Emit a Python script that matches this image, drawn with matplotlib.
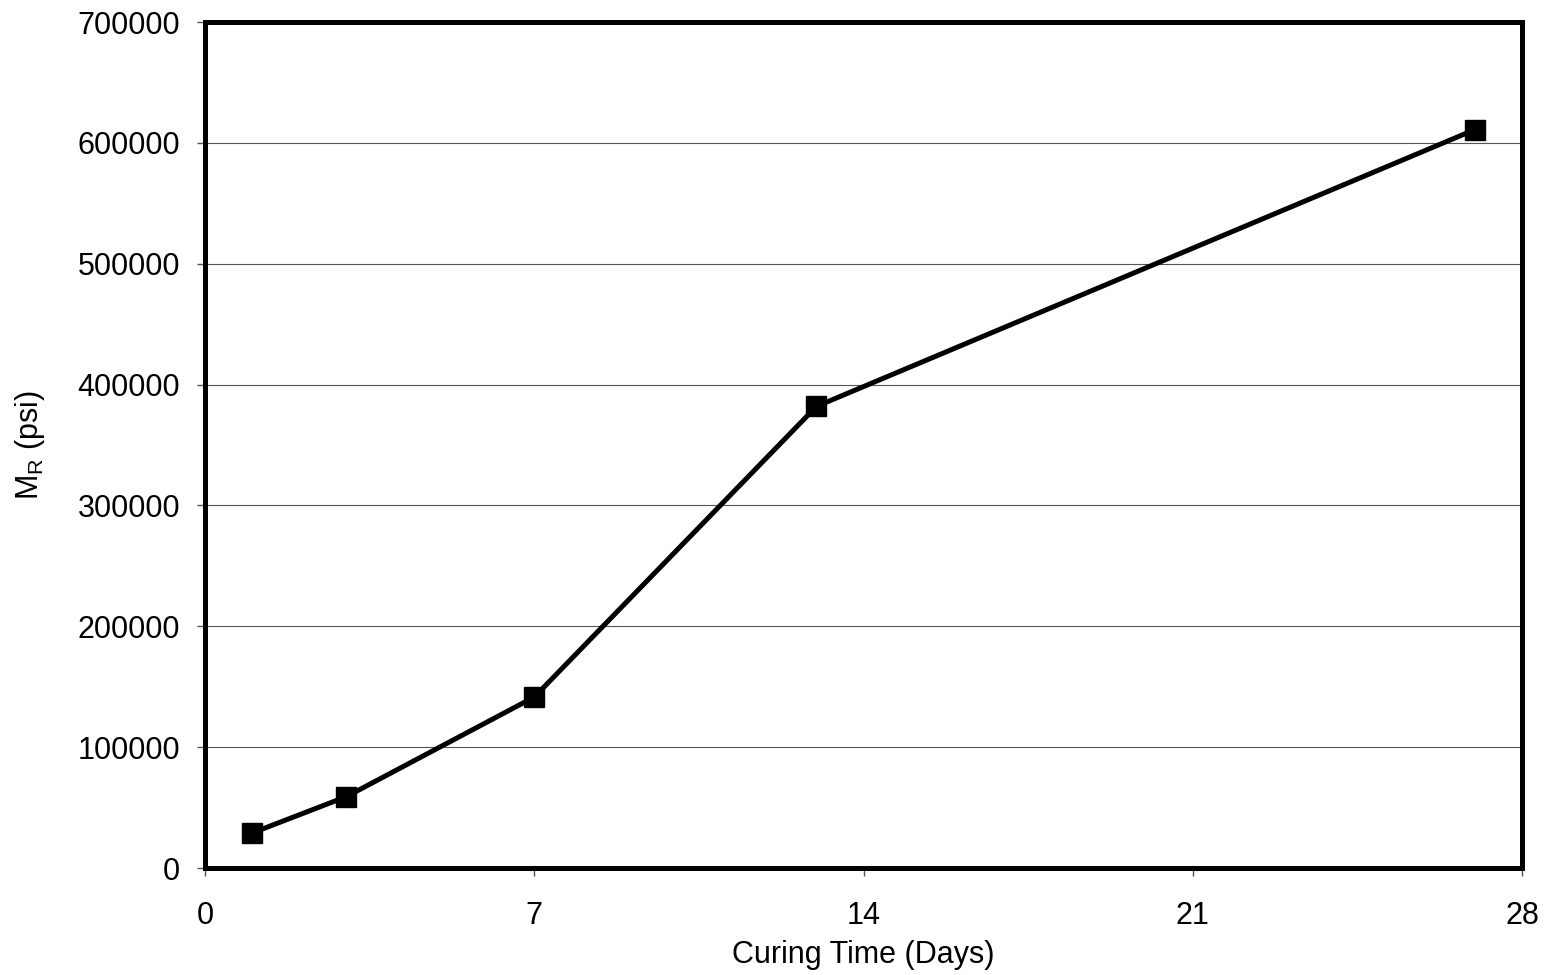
import matplotlib
matplotlib.use('Agg')
import matplotlib.pyplot as plt

# curing time (days) and resilient modulus (psi)
days = [1, 3, 7, 13, 27]
mr_psi = [29000, 59000, 141500, 382000, 611000]

x_ticks = [0, 7, 14, 21, 28]
y_ticks = [0, 100000, 200000, 300000, 400000, 500000, 600000, 700000]

plt.rcParams['font.family'] = ['Liberation Sans', 'DejaVu Sans']

fig = plt.figure(figsize=(15.51, 9.75), dpi=100)
ax = fig.add_axes([0.1322, 0.1097, 0.8491, 0.8677])

ax.plot(days, mr_psi, color='black', linewidth=3.6, marker='s', markersize=14,
        markerfacecolor='black', markeredgecolor='black', zorder=3, clip_on=False)

ax.set_xlim(0, 28)
ax.set_ylim(0, 700000)
ax.set_xticks(x_ticks)
ax.set_yticks(y_ticks)
ax.set_xticklabels([str(t) for t in x_ticks])
ax.set_yticklabels([str(t) for t in y_ticks])
ax.yaxis.grid(True, color='#555555', linewidth=0.8)
ax.set_axisbelow(True)

for s in ax.spines.values():
    s.set_linewidth(3.6)
    s.set_color('black')

ax.tick_params(axis='both', direction='out', length=6, width=1, color='#555555',
               labelsize=22)
ax.tick_params(axis='x', pad=18)
ax.tick_params(axis='y', pad=12)

ax.set_xlabel('Curing Time (Days)', fontsize=22, labelpad=6)
ax.set_ylabel(r'M$_\mathregular{R}$ (psi)', fontsize=22, labelpad=22)

fig.savefig('out.png', dpi=100)
